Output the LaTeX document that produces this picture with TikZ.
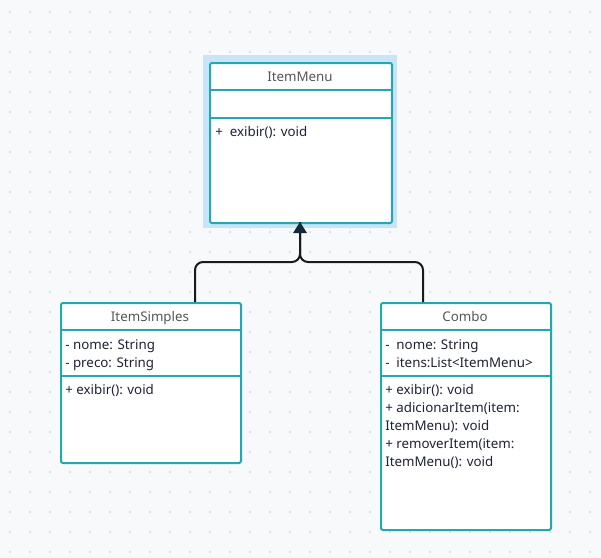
\documentclass[tikz,border=0pt]{standalone}
\usepackage{fontspec}
\setmainfont{Noto Sans}
\usetikzlibrary{arrows.meta}
\definecolor{bgc}{HTML}{F8F9FB}
\definecolor{dotc}{HTML}{E0E1E6}
\definecolor{teal}{HTML}{22A8AE}
\definecolor{hil}{HTML}{C8E4F8}
\definecolor{txt}{HTML}{1E2235}
\definecolor{ttl}{HTML}{555555}
\definecolor{arr}{HTML}{1A1A1A}
\definecolor{tip}{HTML}{14293A}
\tikzset{
  classbox/.style={draw=teal, line width=1.5pt, fill=white, rounded corners=1.5pt, inner sep=0pt, anchor=north west},
  divider/.style={draw=teal, line width=1.5pt},
  title/.style={font=\fontsize{10}{12}\selectfont, text=ttl, inner sep=0pt, anchor=base},
  member/.style={font=\fontsize{10}{12}\selectfont, text=txt, inner sep=0pt, anchor=base west},
  conn/.style={draw=arr, line width=1.5pt, rounded corners=6pt},
}
\begin{document}
\begin{tikzpicture}[x=0.75pt,y=-0.75pt]
\useasboundingbox (0,0) rectangle (601,558);
\fill[bgc] (0,0) rectangle (601,558);
\foreach \i in {0,...,29}{\foreach \j in {0,...,27}{
  \fill[dotc] (10+20*\i,12+20*\j) circle (1.1pt);}}
% highlight
\fill[hil] (203,55) rectangle (397,228);
% ItemMenu
\node[classbox, minimum width=182*0.75pt, minimum height=160*0.75pt] (menu) at (209,62) {};
\draw[divider] (209,90) -- (391,90);
\draw[divider] (209,118) -- (391,118);
\node[title] (menuT) at (300,81) {ItemMenu};
\node[member] (menuM1) at (215,136.5) {+\ \ exibir(): void};
% ItemSimples
\node[classbox, minimum width=180*0.75pt, minimum height=160*0.75pt] (simples) at (60,302) {};
\draw[divider] (60,330) -- (240,330);
\draw[divider] (60,376) -- (240,376);
\node[title] (simplesT) at (150,321.5) {ItemSimples};
\node[member] (simplesA1) at (65,349.5) {- nome: String};
\node[member] (simplesA2) at (65,367.5) {- preco: String};
\node[member] (simplesM1) at (65,394.5) {+ exibir(): void};
% Combo
\node[classbox, minimum width=170*0.75pt, minimum height=227*0.75pt] (combo) at (380,302) {};
\draw[divider] (380,330) -- (550,330);
\draw[divider] (380,376) -- (550,376);
\node[title] (comboT) at (465,321.5) {Combo};
\node[member] (comboA1) at (385,349.5) {-\ \ nome: String};
\node[member] (comboA2) at (385,367.5) {-\ \ itens:List<ItemMenu>};
\node[member] (comboM1) at (385,394.5) {+ exibir(): void};
\node[member] (comboM2) at (385,412.5) {+ adicionarItem(item:};
\node[member] (comboM3) at (385,430.5) {ItemMenu): void};
\node[member] (comboM4) at (385,448.5) {+ removerItem(item:};
\node[member] (comboM5) at (385,466.5) {ItemMenu(): void};
% connectors
\coordinate (sA) at (195,302);
\coordinate (cA) at (423,302);
\coordinate (j) at (300,262);
\coordinate (mB) at (300,222);
\draw[conn] (sA) |- (j) -- (mB);
\draw[conn] (cA) |- (j) -- (mB);
\fill[tip] (mB) -- (293,233) -- (307,233) -- cycle;
\end{tikzpicture}
\end{document}
